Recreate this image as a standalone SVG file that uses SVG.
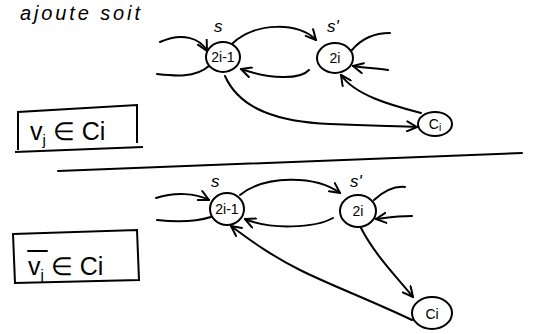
<svg xmlns="http://www.w3.org/2000/svg" width="533" height="334" viewBox="0 0 533 334">
<style>
.e{fill:none;stroke:#000;stroke-width:2;stroke-linecap:round;stroke-linejoin:round}
.n{fill:#fff;stroke:#000;stroke-width:2}
.t{font-family:"Liberation Sans",Arial,sans-serif;fill:#000}
.lbl{font-size:14px;text-anchor:middle}
.box{fill:none;stroke:#000;stroke-width:2}
</style>
<defs>
<marker id="ah" viewBox="0 0 12 12" refX="11" refY="6" markerWidth="12" markerHeight="12" markerUnits="userSpaceOnUse" orient="auto">
<path d="M1,1 L11,6 L1,11" fill="none" stroke="#000" stroke-width="2" stroke-linecap="round" stroke-linejoin="round"/>
</marker>
</defs>
<rect width="533" height="334" fill="#fff"/>
<text class="t" x="20" y="20" font-size="20" font-style="italic" textLength="120">ajoute soit</text>

<g id="connectors">
<path class="e" d="M160,42 C182,32 200,38 207,51" marker-end="url(#ah)"/>
<path class="e" d="M209,66 C195,78 175,76 157,74"/>
<path class="e" d="M233,43 C255,22 300,22 316,40" marker-end="url(#ah)"/>
<path class="e" d="M309,70 C300,80 270,79 241,69" marker-end="url(#ah)"/>
<path class="e" d="M352,50 C362,38 375,33 390,33"/>
<path class="e" d="M388,70 C375,68 362,68 353,66" marker-end="url(#ah)"/>
<path class="e" d="M225,76 C240,110 280,122 330,124 S400,126 417,127" marker-end="url(#ah)"/>
<path class="e" d="M421,113 C390,105 355,95 341,75" marker-end="url(#ah)"/>

<path class="e" d="M156,198 C175,192 195,193 209,200" marker-end="url(#ah)"/>
<path class="e" d="M211,217 C195,222 175,222 157,220"/>
<path class="e" d="M240,195 C265,175 315,175 340,193" marker-end="url(#ah)"/>
<path class="e" d="M333,218 C315,228 270,230 245,219" marker-end="url(#ah)"/>
<path class="e" d="M374,200 C385,190 395,186 405,187"/>
<path class="e" d="M412,216 C395,216 385,218 376,219" marker-end="url(#ah)"/>
<path class="e" d="M361,228 C375,255 395,275 413,297" marker-end="url(#ah)"/>
<path class="e" d="M412,320 C370,300 330,285 300,270 S250,240 231,226" marker-end="url(#ah)"/>
</g>

<g id="n_top_2i-1">
<ellipse class="n" cx="223" cy="57" rx="17" ry="15"/>
<text class="t lbl" x="223" y="62" font-size="13">2i-1</text>
<text class="t" x="214" y="32" font-size="17" font-style="italic">s</text>
</g>
<g id="n_top_2i">
<ellipse class="n" cx="335" cy="58" rx="18" ry="15"/>
<text class="t lbl" x="335" y="63" font-size="15">2i</text>
<text class="t" x="327" y="32" font-size="17" font-style="italic">s'</text>
</g>
<g id="n_top_Ci">
<ellipse class="n" cx="435" cy="124" rx="17" ry="12"/>
<text class="t lbl" x="435" y="129">C<tspan font-size="10" dy="2">i</tspan></text>
</g>

<g id="label_top">
<path class="box" d="M18,150 L18,112 L137,105 L137,143 M15,152 L143,147"/>
<text class="t" x="30" y="140" font-size="25">v<tspan font-size="15" dy="5">j</tspan><tspan dy="-5"> ∈ Ci</tspan></text>
</g>

<path class="e" d="M58,171 L522,153"/>

<g id="n_bot_2i-1">
<ellipse class="n" cx="227" cy="209" rx="17" ry="16"/>
<text class="t lbl" x="227" y="214" font-size="13">2i-1</text>
<text class="t" x="211" y="187" font-size="17" font-style="italic">s</text>
</g>
<g id="n_bot_2i">
<ellipse class="n" cx="358" cy="211" rx="18" ry="16"/>
<text class="t lbl" x="358" y="216" font-size="15">2i</text>
<text class="t" x="350" y="187" font-size="17" font-style="italic">s'</text>
</g>
<g id="n_bot_Ci">
<ellipse class="n" cx="432" cy="313" rx="20" ry="16"/>
<text class="t lbl" x="432" y="319" font-size="16">Ci</text>
</g>

<g id="label_bot">
<path class="box" d="M13,234 L137,230 L139,280 L15,283 Z"/>
<path class="e" d="M28,251 L47,251"/>
<text class="t" x="28" y="275" font-size="25">v<tspan font-size="15" dy="5">j</tspan><tspan dy="-5"> ∈ Ci</tspan></text>
</g>
</svg>
